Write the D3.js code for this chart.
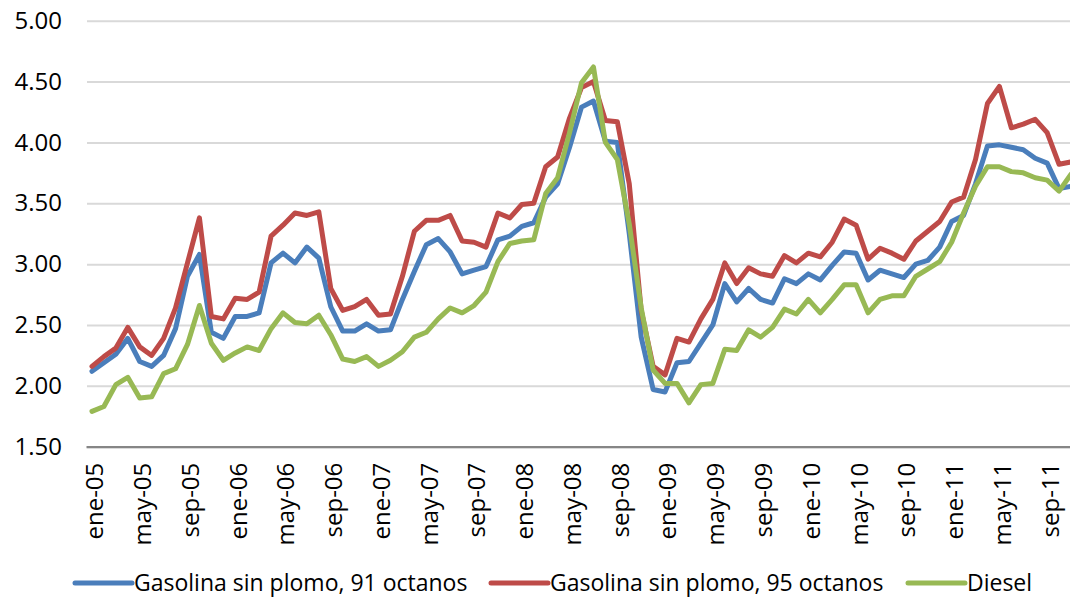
<!DOCTYPE html>
<html>
<head>
<meta charset="utf-8">
<script src="https://cdn.jsdelivr.net/npm/d3@7/dist/d3.min.js"></script>
<style>
  html, body { margin: 0; padding: 0; background: #fff; }
  svg { display: block; font-family: "Open Sans", sans-serif; }
</style>
</head>
<body>
<svg id="chart" width="1070" height="599"></svg>
<script>
// month names and years -> categories
var monthNames = ["ene", "feb", "mar", "abr", "may", "jun", "jul", "ago", "sep", "oct", "nov", "dic"];
var years = ["05", "06", "07", "08", "09", "10", "11"];
var categories = [];
years.forEach(function (yy) {
    monthNames.forEach(function (m) { categories.push(m + "-" + yy); });
});
categories = categories.slice(0, 83); // ene-05 .. nov-11

// tick labels on x axis (every 4 months)
var xTickLabels = categories.filter(function (d, i) { return i % 4 === 0; });
var yTicks = [1.5, 2.0, 2.5, 3.0, 3.5, 4.0, 4.5, 5.0];

// Gasolina sin plomo, 91 octanos
var gas91 = [
    2.12, 2.19, 2.26, 2.39, 2.20, 2.16, 2.25, 2.47, 2.90, 3.08, 2.44, 2.39,
    2.57, 2.57, 2.60, 3.01, 3.09, 3.01, 3.14, 3.05, 2.65, 2.45, 2.45, 2.51,
    2.45, 2.46, 2.71, 2.94, 3.16, 3.21, 3.10, 2.92, 2.95, 2.98, 3.20, 3.23,
    3.31, 3.34, 3.55, 3.66, 3.96, 4.29, 4.34, 4.01, 4.00, 3.25, 2.40, 1.97,
    1.95, 2.19, 2.20, 2.35, 2.50, 2.84, 2.69, 2.80, 2.71, 2.68, 2.88, 2.84,
    2.92, 2.87, 2.99, 3.10, 3.09, 2.87, 2.95, 2.92, 2.89, 3.00, 3.03, 3.14,
    3.35, 3.40, 3.66, 3.97, 3.98, 3.96, 3.94, 3.87, 3.83, 3.62, 3.64
];
// Gasolina sin plomo, 95 octanos
var gas95 = [
    2.16, 2.24, 2.31, 2.48, 2.32, 2.25, 2.39, 2.64, 3.01, 3.38, 2.57, 2.55,
    2.72, 2.71, 2.77, 3.23, 3.32, 3.42, 3.40, 3.43, 2.80, 2.62, 2.65, 2.71,
    2.58, 2.59, 2.90, 3.27, 3.36, 3.36, 3.40, 3.19, 3.18, 3.14, 3.42, 3.38,
    3.49, 3.50, 3.80, 3.88, 4.20, 4.45, 4.50, 4.18, 4.17, 3.66, 2.62, 2.16,
    2.09, 2.39, 2.36, 2.55, 2.71, 3.01, 2.84, 2.97, 2.92, 2.90, 3.07, 3.01,
    3.09, 3.06, 3.18, 3.37, 3.32, 3.04, 3.13, 3.09, 3.04, 3.19, 3.27, 3.35,
    3.51, 3.55, 3.86, 4.32, 4.46, 4.12, 4.15, 4.19, 4.08, 3.82, 3.84
];
// Diesel
var diesel = [
    1.79, 1.83, 2.01, 2.07, 1.90, 1.91, 2.10, 2.14, 2.34, 2.66, 2.35, 2.21,
    2.27, 2.32, 2.29, 2.47, 2.60, 2.52, 2.51, 2.58, 2.42, 2.22, 2.20, 2.24,
    2.16, 2.21, 2.28, 2.40, 2.44, 2.55, 2.64, 2.60, 2.66, 2.77, 3.02, 3.17,
    3.19, 3.20, 3.58, 3.71, 4.08, 4.49, 4.62, 4.00, 3.86, 3.33, 2.64, 2.13,
    2.02, 2.02, 1.86, 2.01, 2.02, 2.30, 2.29, 2.46, 2.40, 2.48, 2.63, 2.59,
    2.71, 2.60, 2.71, 2.83, 2.83, 2.60, 2.71, 2.74, 2.74, 2.90, 2.96, 3.02,
    3.18, 3.42, 3.64, 3.80, 3.80, 3.76, 3.75, 3.71, 3.69, 3.60, 3.74
];

var seriesNames = ["Gasolina sin plomo, 91 octanos", "Gasolina sin plomo, 95 octanos", "Diesel"];

!function () {
    var svg = d3.select("#chart");
    var plotLeft = 86, plotRight = 1077, plotTop = 20.7, plotBottom = 446.7;
    var colors = ["#4a7ebb", "#be4b48", "#98b954"];
    var series = [gas91, gas95, diesel];

    var x = d3.scaleBand().domain(categories).range([plotLeft, plotRight]);
    var y = d3.scaleLinear().domain([1.5, 5]).range([plotBottom, plotTop]);
    var cx = function (i) { return x(categories[i]) + x.bandwidth() / 2; };

    // horizontal gridlines + y labels
    var yAxis = svg.append("g")
        .attr("transform", "translate(" + plotLeft + ",0)")
        .call(d3.axisLeft(y).tickValues(yTicks).tickSize(-(plotRight - plotLeft))
            .tickPadding(24).tickFormat(d3.format(".2f")));
    yAxis.select(".domain").remove();
    yAxis.selectAll(".tick line")
        .attr("stroke", "#d9d9d9")
        .attr("stroke-width", 2)
        .attr("x1", 1);
    yAxis.selectAll(".tick text")
        .attr("fill", "#000")
        .style("font-size", "24px")
        .style("font-family", "'Open Sans', sans-serif");

    // x axis
    var xAxis = svg.append("g")
        .attr("transform", "translate(0," + plotBottom + ")")
        .call(d3.axisBottom(x).tickValues(xTickLabels).tickSize(0).tickSizeOuter(0));
    xAxis.select(".domain")
        .attr("stroke", "#868686")
        .attr("stroke-width", 2.2);
    xAxis.selectAll(".tick text")
        .attr("fill", "#000")
        .style("font-size", "24px")
        .style("font-family", "'Open Sans', sans-serif")
        .attr("text-anchor", "end")
        .attr("transform", "rotate(-90)")
        .attr("x", -16)
        .attr("y", 3)
        .attr("dy", "0.35em");

    // lines
    var line = d3.line()
        .x(function (d, i) { return cx(i); })
        .y(function (d) { return y(d); });

    series.forEach(function (s, k) {
        svg.append("path")
            .datum(s)
            .attr("fill", "none")
            .attr("stroke", colors[k])
            .attr("stroke-width", 5)
            .attr("stroke-linejoin", "round")
            .attr("stroke-linecap", "round")
            .attr("d", line);
    });

    // legend
    var legendX = [75, 491, 908];
    var legend = svg.append("g").attr("transform", "translate(0,583)");
    seriesNames.forEach(function (name, k) {
        legend.append("line")
            .attr("x1", legendX[k]).attr("x2", legendX[k] + 57)
            .attr("y1", 0).attr("y2", 0)
            .attr("stroke", colors[k])
            .attr("stroke-width", 5)
            .attr("stroke-linecap", "round");
        legend.append("text")
            .attr("x", legendX[k] + 59)
            .attr("y", 0)
            .attr("dy", "0.35em")
            .style("font-size", "23px")
            .text(name);
    });
}();
</script>
</body>
</html>
